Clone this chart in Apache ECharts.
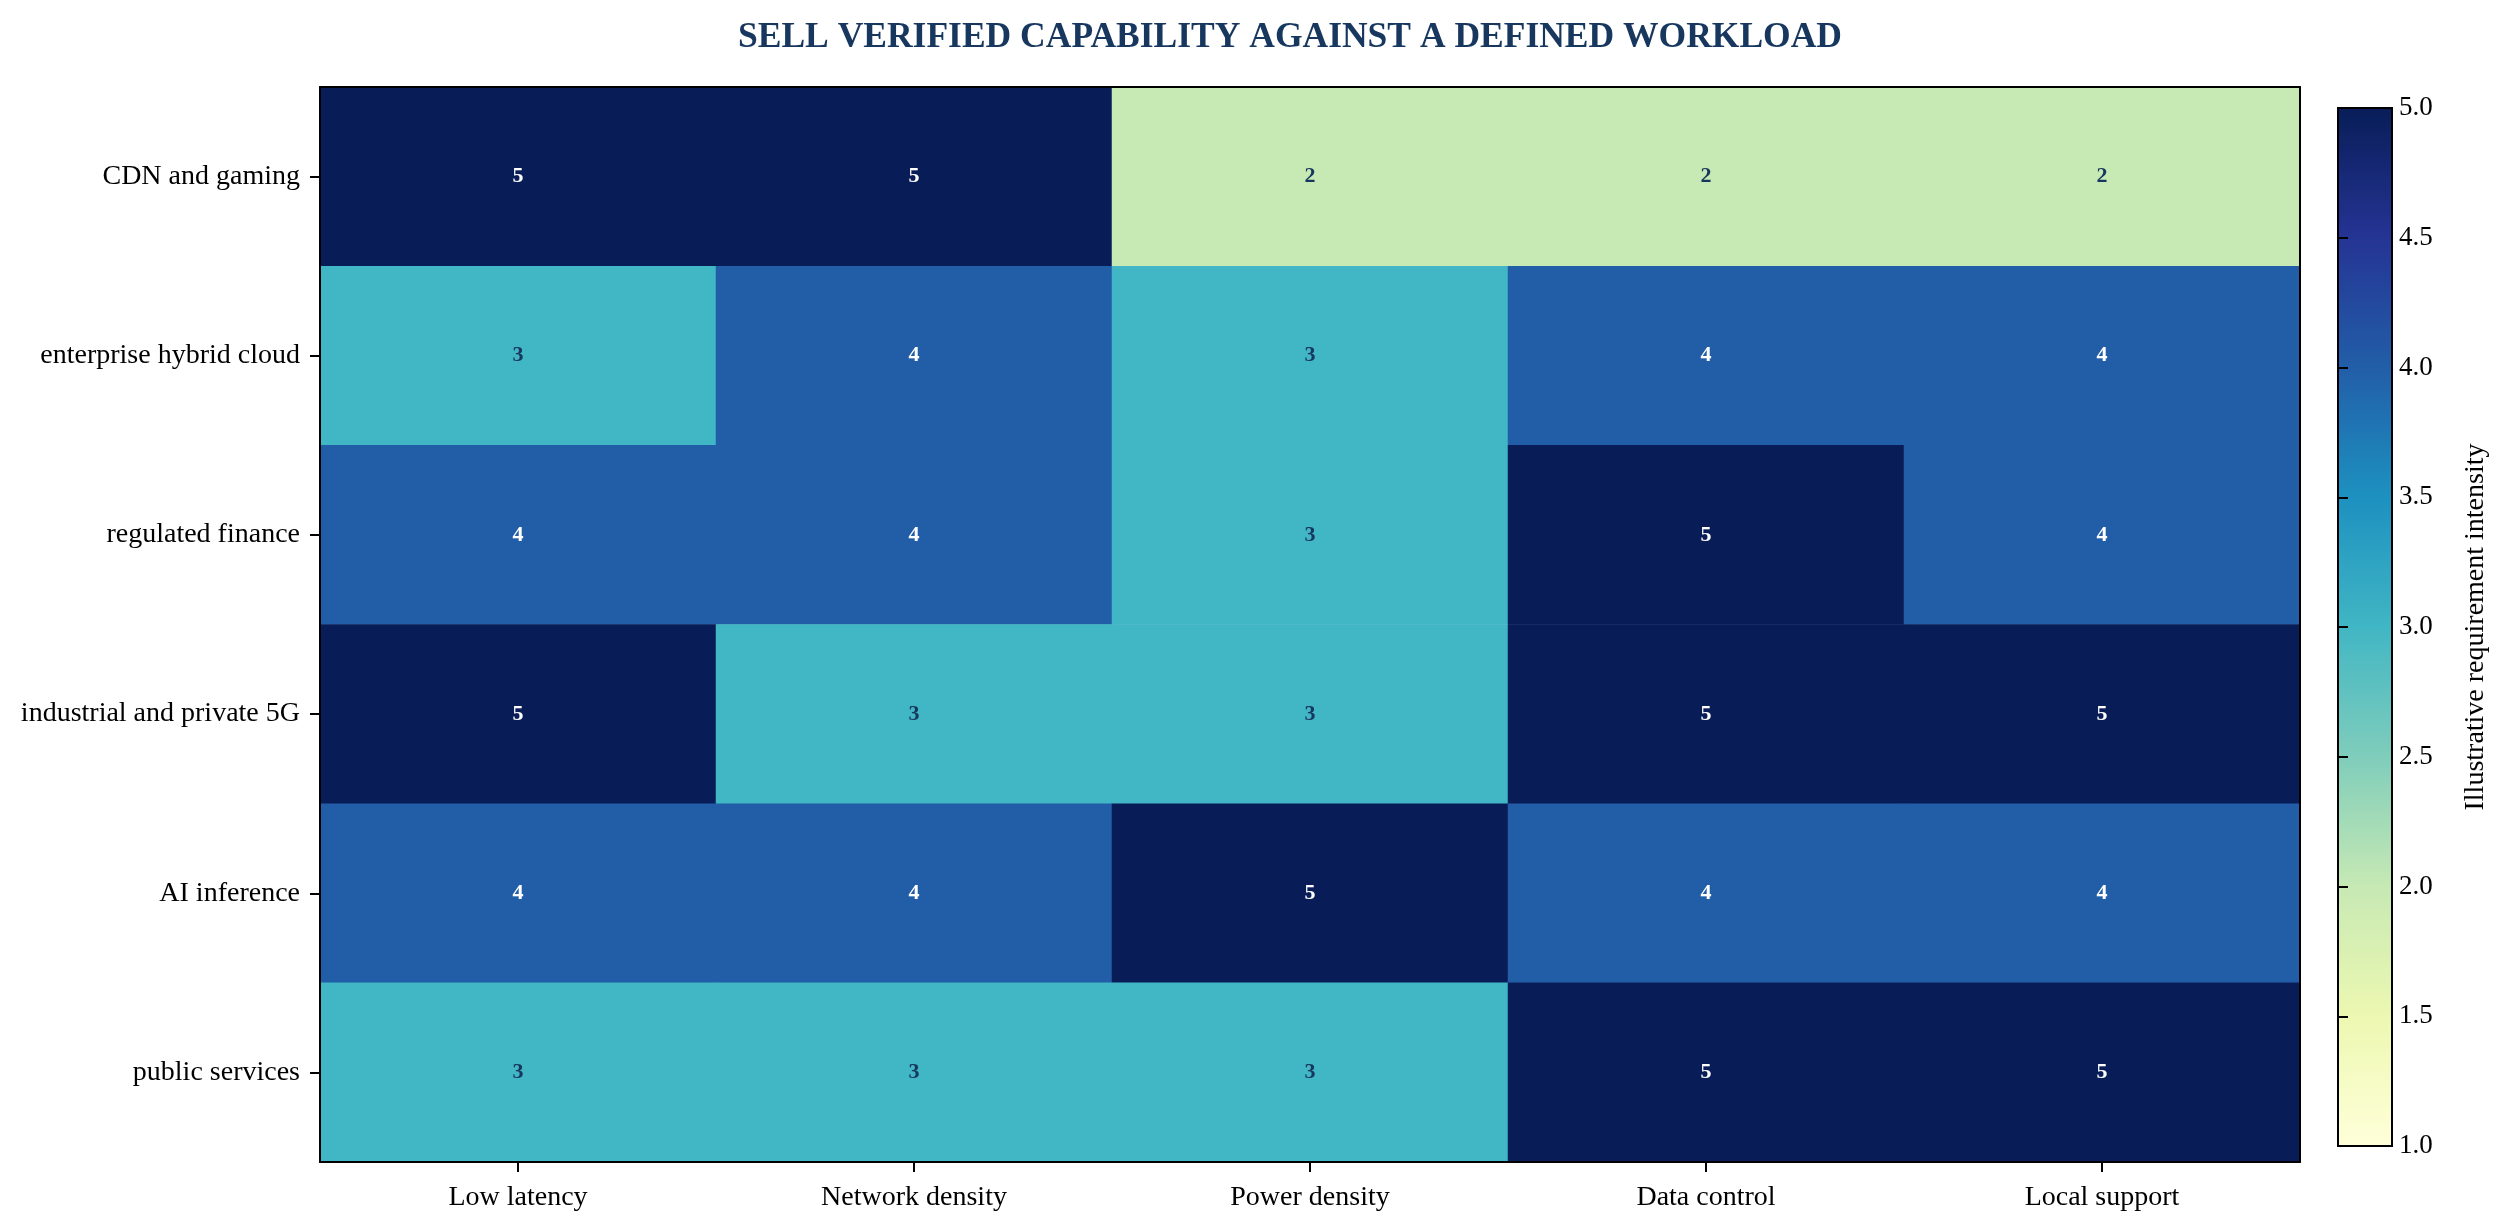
<!DOCTYPE html>
<html>
<head>
<meta charset="utf-8">
<script src="https://cdn.jsdelivr.net/npm/echarts@6/dist/echarts.min.js"></script>
<style>
  html, body { margin: 0; padding: 0; background: #ffffff; }
  #chart { width: 2510px; height: 1232px; }
</style>
</head>
<body>
<div id="chart"></div>
<script>
// capability columns and workload rows
const capabilities = ['Low latency', 'Network density', 'Power density', 'Data control', 'Local support'];
const workloads = ['CDN and gaming', 'enterprise hybrid cloud', 'regulated finance',
  'industrial and private 5G', 'AI inference', 'public services'];

// requirement intensity per workload (row), one value per capability
const cdnGaming = [5, 5, 2, 2, 2];
const hybridCloud = [3, 4, 3, 4, 4];
const regulatedFinance = [4, 4, 3, 5, 4];
const industrial5G = [5, 3, 3, 5, 5];
const aiInference = [4, 4, 5, 4, 4];
const publicServices = [3, 3, 3, 5, 5];
const rows = [cdnGaming, hybridCloud, regulatedFinance, industrial5G, aiInference, publicServices];

// YlGnBu
const ylGnBu = ['#ffffd9', '#edf8b1', '#c7e9b4', '#7fcdbb', '#41b6c4', '#1d91c0', '#225ea8', '#253494', '#081d58'];

const serif = '"Liberation Serif", "Times New Roman", serif';

let cells = [];
rows.forEach((vals, r) => {
  vals.forEach((v, c) => {
    cells.push({
      value: [c, r, v],
      label: { color: v >= 4 ? '#ffffff' : '#17375e' }
    });
  });
});

const chart = echarts.init(document.getElementById('chart'));

chart.setOption({
  backgroundColor: '#ffffff',
  animation: false,
  title: {
    text: 'SELL VERIFIED CAPABILITY AGAINST A DEFINED WORKLOAD',
    left: 733,
    top: 15,
    textStyle: { fontFamily: serif, fontWeight: 'bold', fontSize: 35.5, color: '#17375e' }
  },
  grid: [
    { left: 320, top: 87, width: 1980, height: 1075 },
    {
      left: 2338, top: 108, width: 54, height: 1038, z: 10,
      show: true, borderColor: '#000', borderWidth: 2, backgroundColor: 'transparent'
    }
  ],
  xAxis: [
    {
      type: 'category', gridIndex: 0, data: capabilities, z: 5,
      axisLine: { lineStyle: { color: '#000', width: 2 } },
      axisTick: { show: true, interval: 0, alignWithLabel: true, length: 10, lineStyle: { color: '#000', width: 2 } },
      axisLabel: { fontFamily: serif, fontSize: 28, color: '#000', margin: 22 },
      splitLine: { show: false }
    },
    {
      type: 'category', gridIndex: 0, data: capabilities, position: 'top', z: 5,
      axisLine: { lineStyle: { color: '#000', width: 2 } },
      axisTick: { show: false }, axisLabel: { show: false }
    },
    { type: 'value', gridIndex: 1, min: 0, max: 1, show: false }
  ],
  yAxis: [
    {
      type: 'category', gridIndex: 0, data: workloads, inverse: true, z: 5,
      axisLine: { lineStyle: { color: '#000', width: 2 } },
      axisTick: { show: true, interval: 0, alignWithLabel: true, length: 10, lineStyle: { color: '#000', width: 2 } },
      axisLabel: { fontFamily: serif, fontSize: 28, color: '#000', margin: 20 },
      splitLine: { show: false }
    },
    {
      type: 'category', gridIndex: 0, data: workloads, inverse: true, position: 'right', z: 5,
      axisLine: { lineStyle: { color: '#000', width: 2 } },
      axisTick: { show: false }, axisLabel: { show: false }
    },
    {
      type: 'value', gridIndex: 1, min: 1, max: 5, interval: 0.5, position: 'right', z: 10,
      axisLine: { show: true, lineStyle: { color: '#000', width: 2 } },
      axisTick: { show: true, length: 10, lineStyle: { color: '#000', width: 2 } },
      axisLabel: {
        fontFamily: serif, fontSize: 27, color: '#000', margin: 7,
        formatter: v => v.toFixed(1)
      },
      splitLine: { show: false },
      name: 'Illustrative requirement intensity',
      nameLocation: 'middle',
      nameRotate: 90,
      nameGap: 70,
      nameTextStyle: { fontFamily: serif, fontSize: 28, color: '#000' }
    }
  ],
  visualMap: {
    type: 'continuous',
    seriesIndex: 0,
    min: 1,
    max: 5,
    calculable: false,
    hoverLink: false,
    left: 2338,
    top: 108,
    padding: 0,
    itemWidth: 54,
    itemHeight: 1038,
    text: ['', ''],
    showLabel: false,
    inRange: { color: ylGnBu }
  },
  series: [{
    type: 'heatmap',
    xAxisIndex: 0,
    yAxisIndex: 0,
    data: cells,
    label: {
      show: true,
      fontFamily: serif,
      fontWeight: 'bold',
      fontSize: 22,
      formatter: p => p.value[2]
    },
    itemStyle: { borderWidth: 0 },
    emphasis: { disabled: true }
  }]
});
</script>
</body>
</html>
